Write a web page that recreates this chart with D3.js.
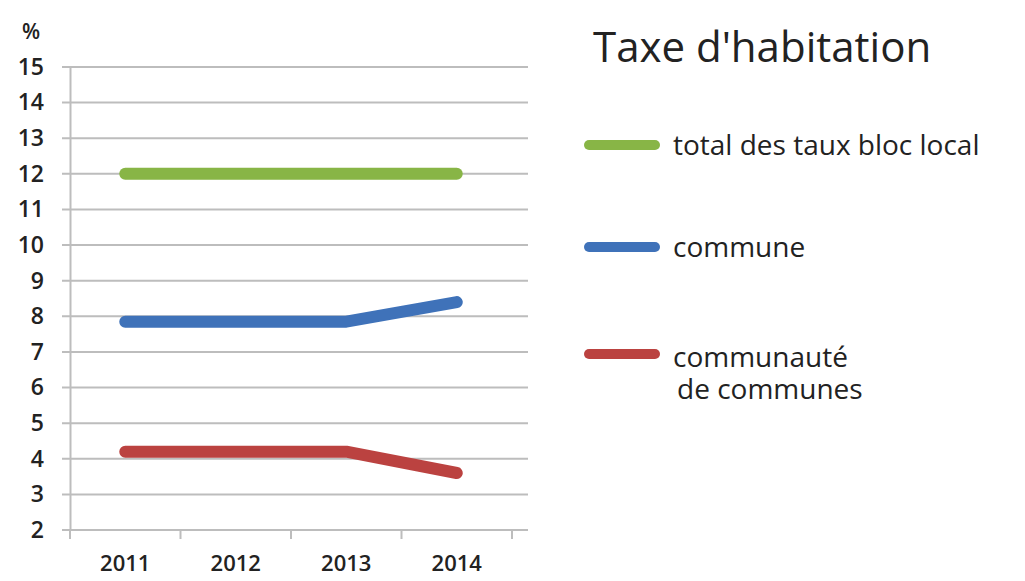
<!DOCTYPE html>
<html>
<head>
<meta charset="utf-8">
<script src="https://cdn.jsdelivr.net/npm/d3@7"></script>
<style>
  body { margin: 0; background: #fff; }
  svg text { font-family: "Open Sans", "Liberation Sans", sans-serif; fill: #222; }
</style>
</head>
<body>
<svg id="chart"></svg>
<script>
// data
const years = ["2011", "2012", "2013", "2014"];
const totalBloc = [12, 12, 12, 12];
const commune = [7.85, 7.85, 7.85, 8.4];
const communaute = [4.2, 4.2, 4.2, 3.6];
const yTicks = [2, 3, 4, 5, 6, 7, 8, 9, 10, 11, 12, 13, 14, 15];

const series = [
  { name: ["total des taux bloc local"], values: totalBloc, color: "#88b546" },
  { name: ["commune"], values: commune, color: "#3f72b9" },
  { name: ["communauté", "de communes"], values: communaute, color: "#bb4240" }
];

const width = 1025, height = 581;
const svg = d3.select("#chart").attr("width", width).attr("height", height);

const plot = { left: 70, right: 512, top: 67, bottom: 530 };

const x = d3.scaleBand().domain(years).range([plot.left, plot.right]);
const y = d3.scaleLinear().domain([2, 15]).range([plot.bottom, plot.top]);

// gridlines
svg.append("g")
  .selectAll("line")
  .data(yTicks)
  .join("line")
  .attr("x1", plot.left - 8)
  .attr("x2", 528)
  .attr("y1", d => y(d))
  .attr("y2", d => y(d))
  .attr("stroke", "#bdbdbd")
  .attr("stroke-width", 2);

// y axis
const yAxis = svg.append("g")
  .attr("transform", `translate(${plot.left},0)`)
  .call(d3.axisLeft(y).tickValues(yTicks).tickSize(0).tickPadding(26));
yAxis.select(".domain").attr("stroke", "#bdbdbd").attr("stroke-width", 2);
yAxis.selectAll("text")
  .style("font-size", "23px").style("font-weight", "600")
  .attr("fill", "#2a2a2a");

svg.append("text")
  .attr("x", 22).attr("y", 39)
  .style("font-size", "21px").style("font-weight", "600")
  .attr("fill", "#2a2a2a")
  .text("%");

// x axis
const xAxis = svg.append("g")
  .attr("transform", `translate(0,${plot.bottom})`)
  .call(d3.axisBottom(x).tickSize(0).tickPadding(25));
xAxis.select(".domain").remove();
xAxis.selectAll("text")
  .style("font-size", "22px").style("font-weight", "600")
  .attr("fill", "#2a2a2a");

// x tick marks at band edges
const edges = years.map(d => x(d)).concat([x(years[years.length - 1]) + x.bandwidth()]);
svg.append("g")
  .selectAll("line")
  .data(edges)
  .join("line")
  .attr("x1", d => d).attr("x2", d => d)
  .attr("y1", plot.bottom).attr("y2", plot.bottom + 9)
  .attr("stroke", "#bdbdbd")
  .attr("stroke-width", 2);
svg.append("line")
  .attr("x1", plot.left).attr("x2", plot.right)
  .attr("y1", plot.bottom).attr("y2", plot.bottom)
  .attr("stroke", "#bdbdbd").attr("stroke-width", 2);

// lines
const line = d3.line()
  .x((d, i) => x(years[i]) + x.bandwidth() / 2)
  .y(d => y(d));

svg.append("g")
  .selectAll("path")
  .data(series)
  .join("path")
  .attr("d", d => line(d.values))
  .attr("fill", "none")
  .attr("stroke", d => d.color)
  .attr("stroke-width", 12)
  .attr("stroke-linecap", "round")
  .attr("stroke-linejoin", "round");

// title
svg.append("text")
  .attr("x", 593).attr("y", 62)
  .style("font-size", "42px")
  .attr("fill", "#1a1a1a")
  .text("Taxe d'habitation");

// legend
const legendY = [145, 247, 354];
const legend = svg.append("g")
  .selectAll("g")
  .data(series)
  .join("g")
  .attr("transform", (d, i) => `translate(0,${legendY[i]})`);

legend.append("line")
  .attr("x1", 589).attr("x2", 655)
  .attr("y1", 0).attr("y2", 0)
  .attr("stroke", d => d.color)
  .attr("stroke-width", 10)
  .attr("stroke-linecap", "round");

legend.append("text")
  .attr("y", (d, i) => i === 2 ? 13 : 10)
  .style("font-size", "28px")
  .selectAll("tspan")
  .data(d => d.name)
  .join("tspan")
  .attr("x", (d, i) => i === 0 ? 673 : 677)
  .attr("dy", (d, i) => i === 0 ? 0 : 32)
  .text(d => d);
</script>
</body>
</html>
